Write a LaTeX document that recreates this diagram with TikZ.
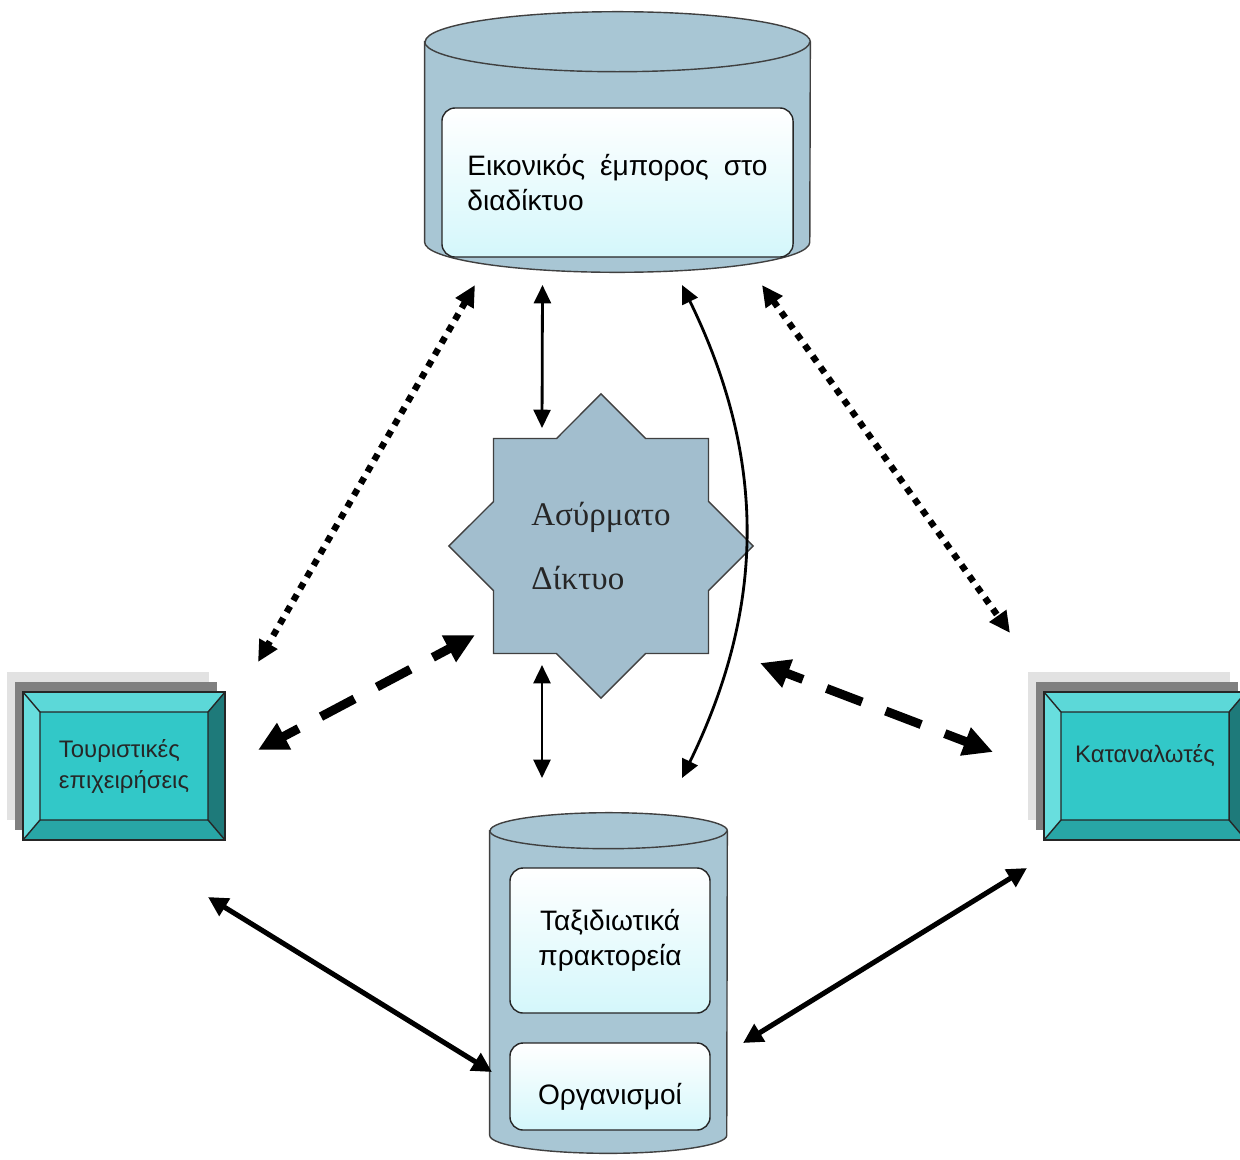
\documentclass[tikz,border=0pt]{standalone}
\usepackage{fontspec}
\setmainfont{Liberation Sans}
\newfontfamily\serifgr{Liberation Serif}
\usetikzlibrary{shapes,arrows.meta,calc,shadows}
\definecolor{cylblue}{RGB}{168,198,212}
\definecolor{starblue}{RGB}{162,190,206}
\definecolor{paleaqua}{RGB}{212,247,251}
\definecolor{tealface}{RGB}{50,200,200}
\definecolor{tealtop}{RGB}{92,216,216}
\definecolor{tealleft}{RGB}{104,222,222}
\definecolor{tealbottom}{RGB}{40,166,166}
\definecolor{tealright}{RGB}{30,122,122}
\definecolor{shadowdark}{RGB}{128,128,128}
\definecolor{shadowlight}{RGB}{226,226,226}

\begin{document}
\begin{tikzpicture}[
    x=0.025cm, y=-0.025cm,
    storebox/.style={rectangle, draw=none, inner sep=0pt},
    cylbody/.style={draw=black!75, line width=1pt, fill=cylblue},
    panel/.style={rectangle, draw=black!85, line width=1pt, rounded corners=0.33cm, top color=white, bottom color=paleaqua, font=\fontsize{20}{25}\selectfont, align=center},
    netstar/.style={star, star points=8, star point ratio=1.307, draw=black!75, line width=1pt, fill=starblue, inner sep=0pt, minimum size=7.6cm, font=\serifgr\fontsize{23.5}{45}\selectfont, align=left, text=black!85},
    bevelbox/.style={rectangle, draw=black!85, line width=1pt, fill=tealface, minimum width=5.05cm, minimum height=3.7cm, text=black!85, font=\fontsize{17}{22}\selectfont, align=left,
        copy shadow={shadow xshift=-0.4cm, shadow yshift=0.5cm, fill=shadowlight, draw=none},
        copy shadow={shadow xshift=-0.2cm, shadow yshift=0.25cm, fill=shadowdark, draw=none},
        path picture={
            \path (path picture bounding box.north west) coordinate (A)
                  (path picture bounding box.north east) coordinate (B)
                  (path picture bounding box.south east) coordinate (C)
                  (path picture bounding box.south west) coordinate (D);
            \path ($(A)+(17,20)$) coordinate (a) ($(B)+(-17,20)$) coordinate (b)
                  ($(C)+(-17,-20)$) coordinate (c) ($(D)+(17,-20)$) coordinate (d);
            \fill[tealtop] (A) -- (B) -- (b) -- (a) -- cycle;
            \fill[tealright] (B) -- (C) -- (c) -- (b) -- cycle;
            \fill[tealbottom] (C) -- (D) -- (d) -- (c) -- cycle;
            \fill[tealleft] (D) -- (A) -- (a) -- (d) -- cycle;
            \draw[black!85, line width=1pt] (a) rectangle (c) (A) -- (a) (B) -- (b) (C) -- (c) (D) -- (d);
        }},
    thinarrow/.style={{Triangle[length=13pt,width=12pt]}-{Triangle[length=13pt,width=12pt]}, line width=2pt},
    dotarrow/.style={{Triangle[length=15pt,width=14pt]}-{Triangle[length=15pt,width=14pt]}, line width=4.6pt, dash pattern=on 4.8pt off 4.8pt},
    dasharrow/.style={{Triangle[length=21pt,width=20pt]}-{Triangle[length=21pt,width=20pt]}, line width=6.4pt, dash pattern=on 27pt off 18pt, dash phase=14pt},
    boldarrow/.style={{Triangle[length=14pt,width=14pt]}-{Triangle[length=14pt,width=14pt]}, line width=3.6pt}
]
    \useasboundingbox (0,0) rectangle (1240,1159);

    % Cylinders
    \node[storebox, minimum width=9.625cm, minimum height=6.5cm] (merchant) at (617.5,142) {};
    \node[storebox, minimum width=5.925cm, minimum height=8.5cm] (agency) at (608.5,983) {};
    \foreach \cyl/\rx/\ry in {merchant/4.8125/0.75, agency/2.9625/0.45} {
        \path[cylbody] ([yshift=-\ry cm]\cyl.north west) -- ([yshift=\ry cm]\cyl.south west)
            arc[start angle=180, end angle=360, x radius=\rx cm, y radius=\ry cm]
            -- ([yshift=-\ry cm]\cyl.north east)
            arc[start angle=0, end angle=180, x radius=\rx cm, y radius=\ry cm] -- cycle;
        \draw[cylbody, fill=none] ([yshift=-\ry cm]\cyl.north west)
            arc[start angle=180, end angle=360, x radius=\rx cm, y radius=\ry cm];
    }

    % Internet merchant
    \node[panel, minimum width=8.775cm, minimum height=3.725cm, text width=7.5cm, align=justify] (merchtext) at (617.5,182.5)
        {Εικονικός έμπορος στο διαδίκτυο};

    % Wireless network
    \node[netstar] (net) at (601,546) {Ασύρματο\\Δίκτυο};

    % Side boxes
    \node[bevelbox] (tourism) at (124,766) {Τουριστικές\\επιχειρήσεις};
    \node[bevelbox, text height=12.5pt, text depth=17pt] (consumers) at (1145,766) {Καταναλωτές};

    % Travel agencies and organisations
    \node[panel, minimum width=5cm, minimum height=3.625cm] (travel) at (610,940.5) {Ταξιδιωτικά\\πρακτορεία};
    \node[panel, minimum width=5cm, minimum height=2.175cm, text height=31pt, text depth=5pt] (orgs) at (610,1086.5) {Οργανισμοί};

    % Connections
    \draw[thinarrow] ($(merchant.center)+(-75,143)$) -- ($(net.center)+(-59,-118)$);
    \draw[thinarrow] ($(net.center)+(-59,119)$) -- ($(agency.center)+(-66.5,-205)$);
    \draw[thinarrow] ($(merchant.center)+(64.5,143)$) to[bend left=26] ($(agency.center)+(73.5,-205)$);
    \draw[dotarrow] ($(merchant.center)+(-142.5,143)$) -- ($(tourism.center)+(134,-104)$);
    \draw[dotarrow] ($(merchant.center)+(144.5,143)$) -- ($(consumers.center)+(-135,-133)$);
    \draw[dasharrow] ($(tourism.center)+(134,-16)$) -- ($(net.center)+(-126,89)$);
    \draw[dasharrow] ($(net.center)+(159,117)$) -- ($(consumers.center)+(-152,-14)$);
    \draw[boldarrow] ($(tourism.center)+(84,131)$) -- ($(agency.center)+(-116.5,89)$);
    \draw[boldarrow] ($(agency.center)+(134.5,60)$) -- ($(consumers.center)+(-118,102)$);
\end{tikzpicture}
\end{document}
